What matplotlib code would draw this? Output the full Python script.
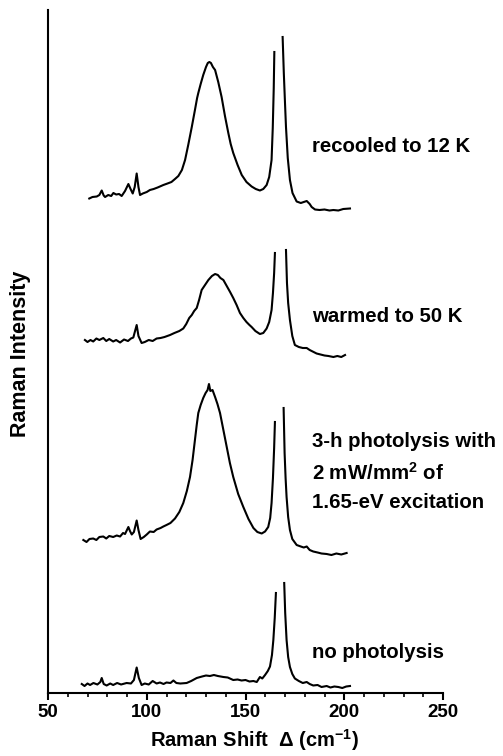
import matplotlib
matplotlib.use('Agg')
import matplotlib.pyplot as plt
import numpy as np

nan = float('nan')

# Stacked Raman spectra (arbitrary intensity units, already offset).
# The strong doublet near 165-170 cm^-1 is cut off, hence the nan gap.
no_photo_x = [67.1, 68.5, 70, 71.3, 73, 75, 76.5, 77.2, 78.2, 79.7, 81.5, 83, 85, 87,
              89.8, 92, 93.5, 94.9, 96, 97.4, 99, 101, 103, 105, 106.7, 108.5, 110, 112,
              113.5, 115, 117, 120.2, 122.5, 125.3, 128, 130, 132, 134, 136, 138.8, 141,
              143.8, 146, 148, 150, 152, 154, 155.7, 157.3, 158.5, 159.9, 161.3, 162.4,
              163.4, 164.1, 164.8, 165.4, nan,
              169.6, 170.1, 170.8, 171.6, 172.5, 173.7, 175, 177, 179, 181, 182.5, 184.3,
              186.5, 188.5, 191.1, 193, 195, 197, 199, 201, 202.9]
no_photo_y = [0.9, 0.7, 0.95, 0.8, 1.0, 0.85, 1.1, 1.5, 0.9, 0.75, 0.95, 0.8, 1.0, 0.85,
              1.0, 0.95, 1.3, 2.55, 1.5, 0.8, 0.95, 0.85, 1.2, 0.95, 1.05, 0.9, 1.05, 1.0,
              1.25, 1.0, 0.95, 1.0, 1.2, 1.5, 1.65, 1.75, 1.7, 1.8, 1.7, 1.6, 1.55,
              1.3, 1.35, 1.25, 1.3, 1.15, 1.2, 1.1, 1.6, 1.45, 1.8, 2.2, 2.65,
              3.8, 5.3, 7.5, 10.0, nan,
              11.0, 8.0, 5.3, 3.6, 2.6, 1.9, 1.45, 1.2, 1.0, 1.1, 0.9, 0.75,
              0.8, 0.6, 0.7, 0.55, 0.65, 0.6, 0.5, 0.65, 0.7]

photo_x = [67.9, 69.5, 71, 72.9, 74.5, 76, 78, 79.5, 81, 83, 84.8, 86.5, 88, 89, 90.7,
           91.5, 92.4, 93.5, 94.9, 95.8, 96.9, 98.5, 100, 101.6, 103.5, 105, 107, 108.4,
           110, 112, 114.3, 116.5, 118.5, 120.3, 121.9, 123.2, 124.4, 125.3, 126.1, 127.3,
           128.6, 129.8, 130.8, 131.5, 132.2, 133.3, 134.6, 135.8, 137.1, 138.8, 140.5,
           142.1, 143.8, 146.3, 148.9, 151.5, 154, 156, 158.2, 159.9, 161.5, 162.5, 163.2,
           163.9, 164.5, 164.9, nan,
           169.3, 169.8, 170.3, 170.8, 171.6, 172.5, 173.7, 175.9, 178, 179.5, 181, 182.5,
           184.3, 186.5, 188.5, 191.1, 193.5, 196, 198.5, 201.2]
photo_y = [15.3, 15.1, 15.4, 15.45, 15.3, 15.6, 15.65, 15.45, 15.7, 15.6, 15.75, 15.65, 16.0,
           15.9, 16.6, 16.2, 15.85, 16.1, 17.25, 16.3, 15.4, 15.6, 15.85, 16.15, 16.1, 16.35,
           16.5, 16.65, 16.8, 17.0, 17.45, 18.1, 19.0, 20.2, 21.6, 23.3, 25.3, 26.8, 28.0,
           28.8, 29.5, 30.0, 30.3, 30.9, 30.2, 30.3, 29.6, 28.9, 28.0, 26.3, 24.6, 23.0,
           21.6, 19.9, 18.6, 17.4, 16.5, 16.1, 15.95, 16.15, 16.6, 17.5, 19.0, 21.5, 24.5,
           27.1, nan,
           28.5, 24.0, 21.5, 19.6, 17.6, 16.3, 15.4, 14.8, 14.65, 14.55, 14.65, 14.3, 14.15,
           14.05, 13.95, 13.9, 13.8, 13.95, 13.85, 14.0]

warm_x = [68.7, 70, 71.5, 72.9, 74.5, 76, 78, 79.5, 81, 83, 84.5, 86.5, 88.5, 90.5, 92,
          93.2, 94.9, 95.8, 97.4, 99, 101, 103, 105, 107, 109, 111.8, 114, 116.5, 118.5,
          120, 121.5, 122.8, 124, 125.3, 126.5, 127.8, 129.5, 131.2, 133, 134.6, 136,
          137.3, 138.8, 140.5, 142.2, 143.8, 145.5, 147.2, 148.9, 150.5, 152, 153.1, 155,
          157.3, 159, 160.7, 162, 163.2, 163.9, 164.5, 164.9, nan,
          170.5, 171, 171.6, 172.5, 173.7, 175, 177, 179, 181, 182.5, 184, 186, 188, 190,
          192, 194.5, 196.5, 198.5, 200.4]
warm_y = [35.3, 35.1, 35.3, 35.15, 35.45, 35.3, 35.5, 35.2, 35.4, 35.15, 35.3, 35.05, 35.35,
          35.2, 35.45, 35.55, 36.8, 35.7, 35.0, 35.1, 35.3, 35.2, 35.45, 35.5, 35.6, 35.8,
          36.0, 36.2, 36.45, 36.9, 37.5, 37.8, 38.2, 38.5, 39.3, 40.3, 40.8, 41.3, 41.7,
          41.9, 41.8, 41.5, 41.3, 40.7, 40.1, 39.5, 38.8, 38.0, 37.5, 37.1, 36.8, 36.6,
          36.2, 35.9, 36.0, 36.45, 37.1, 38.3, 40.0, 42.0, 44.0, nan,
          44.3, 41.0, 39.0, 37.3, 35.7, 34.8, 34.6, 34.5, 34.5, 34.3, 34.15, 33.95, 33.85,
          33.75, 33.7, 33.6, 33.7, 33.6, 33.8]

recool_x = [70.9, 72.5, 74.7, 76, 77.2, 78.2, 78.9, 80.5, 82, 83.1, 84.5, 86, 87.3, 89,
            90.7, 91.8, 92.9, 93.9, 94.9, 95.8, 96.6, 98, 100, 101.6, 103.5, 105.5, 108.4,
            110.5, 112.5, 114.3, 116, 117.8, 119.4, 121, 122.8, 124.4, 125.5, 126.1, 127.3,
            128.6, 130, 130.9, 131.7, 132.5, 133.5, 134.6, 136.2, 137.9, 139.6, 141.3,
            142.5, 143.8, 146, 148.1, 150.5, 153.1, 155.2, 157.3, 159, 160.7, 162, 163.2,
            163.8, 164.3, 164.6, nan,
            168.8, 169.4, 170, 170.5, 171.4, 172.5, 173.8, 175.9, 178, 179.5, 181, 182.5,
            183.5, 185.2, 187.5, 190, 192.5, 194.5, 197, 199.5, 202.9]
recool_y = [49.45, 49.6, 49.65, 49.8, 50.25, 49.75, 49.6, 49.8, 49.7, 50.0, 49.85, 49.9,
            49.7, 50.2, 50.9, 50.4, 49.95, 50.6, 51.95, 50.6, 49.8, 49.95, 50.1, 50.3, 50.4,
            50.55, 50.8, 50.95, 51.1, 51.4, 51.7, 52.3, 53.3, 54.8, 56.6, 58.3, 59.5, 60.0,
            60.9, 61.8, 62.6, 63.0, 63.1, 63.0, 62.6, 62.3, 61.1, 59.6, 57.7, 56.0, 54.9,
            54.0, 52.8, 51.8, 51.1, 50.65, 50.4, 50.25, 50.4, 50.8, 51.6, 53.3, 56.5, 60.5,
            64.1, nan,
            65.6, 62.0, 59.0, 56.6, 53.5, 51.3, 50.0, 49.15, 49.0, 49.1, 49.2, 48.9, 48.6,
            48.35, 48.3, 48.35, 48.25, 48.3, 48.25, 48.4, 48.45]

labels = ['recooled to 12 K', 'warmed to 50 K',
          '3-h photolysis with', '2 mW/mm$^{2}$ of', '1.65-eV excitation',
          'no photolysis']
label_y = [54.6, 37.6, 25.1, 22.0, 19.0, 4.0]

plt.rcParams['font.family'] = 'Liberation Sans'
plt.rcParams['font.weight'] = 'bold'
plt.rcParams['mathtext.default'] = 'regular'

fig = plt.figure(figsize=(5.03, 7.56), dpi=100)
ax = fig.add_axes([48 / 503, 63 / 756, 395 / 503, 683 / 756])

for xs, ys in [(no_photo_x, no_photo_y), (photo_x, photo_y),
               (warm_x, warm_y), (recool_x, recool_y)]:
    ax.plot(np.array(xs), np.array(ys), color='black', lw=1.5)

for s, y in zip(labels, label_y):
    ax.text(183.7, y, s, fontsize=14.7, fontweight='bold', ha='left', va='center')

ax.set_xlim(50, 250)
ax.set_ylim(0, 68.3)
ax.spines['top'].set_visible(False)
ax.spines['right'].set_visible(False)
ax.spines['left'].set_linewidth(1.5)
ax.spines['bottom'].set_linewidth(1.5)
ax.set_yticks([])
ax.set_xticks([50, 100, 150, 200, 250])
ax.set_xticks(np.arange(50, 251, 10), minor=True)
ax.tick_params(axis='x', which='major', direction='out', length=5, width=1.5,
               labelsize=13.5, pad=3)
ax.tick_params(axis='x', which='minor', direction='out', length=3, width=1.2)
for lab in ax.get_xticklabels():
    lab.set_fontweight('bold')

fig.text(254 / 503, 1 - 747 / 756, r'Raman Shift  $\Delta$ (cm$^{-1}$)',
         fontsize=14.5, fontweight='bold', ha='center', va='baseline')
fig.text(21 / 503, 1 - 354 / 756, 'Raman Intensity', fontsize=15.5,
         fontweight='bold', rotation=90, ha='center', va='center')

plt.savefig('out.png', dpi=100)
